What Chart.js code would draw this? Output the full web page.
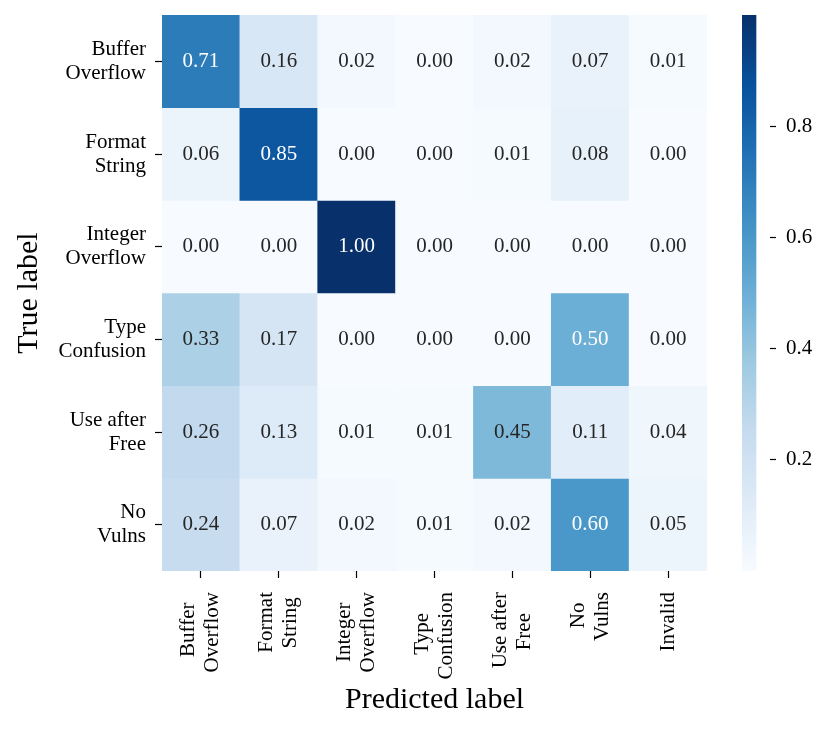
<!DOCTYPE html>
<html><head><meta charset="utf-8">
<script src="https://cdn.jsdelivr.net/npm/chart.js@4.4.1/dist/chart.umd.min.js"></script>
<style>
html,body{margin:0;padding:0;background:#fff;}
#wrap{position:relative;width:830px;height:733px;}
#wrap canvas{position:absolute;left:0;top:0;}
#cbar{pointer-events:none;}
</style>
</head><body>
<div id="wrap"><canvas id="main" width="830" height="733"></canvas><canvas id="cbar" width="830" height="733"></canvas></div>
<script>
// ---- data ----
const predictedLabels = [['Buffer','Overflow'], ['Format','String'], ['Integer','Overflow'], ['Type','Confusion'], ['Use after','Free'], ['No','Vulns'], ['Invalid']];
const trueLabels = [['Buffer','Overflow'], ['Format','String'], ['Integer','Overflow'], ['Type','Confusion'], ['Use after','Free'], ['No','Vulns']];
const rowBufferOverflow  = [0.71, 0.16, 0.02, 0.00, 0.02, 0.07, 0.01];
const rowFormatString    = [0.06, 0.85, 0.00, 0.00, 0.01, 0.08, 0.00];
const rowIntegerOverflow = [0.00, 0.00, 1.00, 0.00, 0.00, 0.00, 0.00];
const rowTypeConfusion   = [0.33, 0.17, 0.00, 0.00, 0.00, 0.50, 0.00];
const rowUseAfterFree    = [0.26, 0.13, 0.01, 0.01, 0.45, 0.11, 0.04];
const rowNoVulns         = [0.24, 0.07, 0.02, 0.01, 0.02, 0.60, 0.05];
const matrix = [rowBufferOverflow, rowFormatString, rowIntegerOverflow, rowTypeConfusion, rowUseAfterFree, rowNoVulns];
const colorbarTicks = [0.2, 0.4, 0.6, 0.8];
const colorMin = 0.0, colorMax = 1.0;
const xTitle = 'Predicted label';
const yTitle = 'True label';

// ---- styling helpers ----
const FONT = '"Liberation Serif", "Times New Roman", serif';
const LH = 24;
const BLUES = ['#f7fbff','#deebf7','#c6dbef','#9ecae1','#6baed6','#4292c6','#2171b5','#08519c','#08306b'];
function hex2rgb(h){return [parseInt(h.substr(1,2),16),parseInt(h.substr(3,2),16),parseInt(h.substr(5,2),16)];}
function bluesRGB(t){
  t = Math.max(0, Math.min(1, t));
  const p = t * (BLUES.length - 1);
  const i = Math.min(Math.floor(p), BLUES.length - 2);
  const f = p - i;
  const a = hex2rgb(BLUES[i]), b = hex2rgb(BLUES[i+1]);
  return a.map((v,k)=>Math.round(v + (b[k]-v)*f));
}
function norm(v){return (v - colorMin) / (colorMax - colorMin);}
function cellColor(v){const c = bluesRGB(norm(v)); return `rgb(${c[0]},${c[1]},${c[2]})`;}
function textColor(v){
  const c = bluesRGB(norm(v)).map(x=>{x/=255; return x<=0.04045? x/12.92 : Math.pow((x+0.055)/1.055,2.4);});
  const lum = 0.2126*c[0] + 0.7152*c[1] + 0.0722*c[2];
  return lum > 0.408 ? '#262626' : '#ffffff';
}
const measureCtx = document.createElement('canvas').getContext('2d');
measureCtx.font = '21px ' + FONT;
function centeredLines(lines){
  if (lines.length === 1) return ['', lines[0]];
  const ws = lines.map(l => measureCtx.measureText(l).width);
  const maxW = Math.max(...ws);
  const sp = measureCtx.measureText(' ').width;
  return lines.map((l,i) => l + ' '.repeat(Math.max(0, Math.round((maxW - ws[i]) / 2 / sp))));
}
function noPad(s){ s.paddingTop = 0; s.paddingBottom = 0; s.paddingLeft = 0; s.paddingRight = 0; }

const annotate = {
  id: 'annotate',
  afterDatasetsDraw(chart){
    const c = chart.ctx;
    c.save();
    c.font = '21px ' + FONT;
    c.textAlign = 'center';
    c.textBaseline = 'middle';
    chart.data.datasets.forEach((ds, r) => {
      chart.getDatasetMeta(r).data.forEach((el, j) => {
        const v = matrix[r][j];
        c.fillStyle = textColor(v);
        c.fillText(v.toFixed(2), el.x, (el.y + el.base) / 2);
      });
    });
    c.restore();
  }
};

new Chart(document.getElementById('main'), {
  type: 'bar',
  data: {
    labels: predictedLabels,
    datasets: matrix.map((row, r) => ({
      label: trueLabels[r].join(' '),
      data: row.map(() => [r, r + 1]),
      backgroundColor: row.map(cellColor),
      borderWidth: 0,
      barPercentage: 1,
      categoryPercentage: 1,
      grouped: false
    }))
  },
  options: {
    responsive: false,
    animation: false,
    layout: { padding: { left: 0, top: 15, right: 123, bottom: 0 } },
    plugins: { legend: { display: false }, tooltip: { enabled: false } },
    scales: {
      x: {
        type: 'category',
        offset: true,
        grid: { display: true, drawOnChartArea: false, offset: false, tickLength: 7, tickWidth: 1.2, tickColor: '#000' },
        border: { display: false },
        ticks: {
          autoSkip: false, minRotation: 90, maxRotation: 90, padding: 14,
          labelOffset: -LH / 2, color: '#000',
          font: ctx => ({ family: FONT, size: 21, lineHeight: ((predictedLabels[ctx.index] || []).length === 1 ? LH / 2 : LH) + 'px' }),
          callback: (v, i) => centeredLines(predictedLabels[i])
        },
        title: { display: true, text: xTitle, color: '#000', font: { family: FONT, size: 30 }, padding: { top: 0, bottom: 15 } },
        afterFit: s => { s.height = 162; noPad(s); }
      },
      y: {
        type: 'linear', min: 0, max: trueLabels.length, reverse: true,
        afterBuildTicks: s => { s.ticks = trueLabels.map((_, i) => ({ value: i + 0.5 })); },
        grid: { drawOnChartArea: false, tickLength: 7, tickWidth: 1.2, tickColor: '#000' },
        border: { display: false },
        ticks: { autoSkip: false, padding: 9, color: '#000', font: { family: FONT, size: 21, lineHeight: LH + 'px' }, callback: v => trueLabels[Math.floor(v)] },
        title: { display: true, text: yTitle, color: '#000', font: { family: FONT, size: 30 }, padding: { top: 11, bottom: 0 } },
        afterFit: s => { s.width = 162; noPad(s); }
      }
    }
  },
  plugins: [annotate]
});

new Chart(document.getElementById('cbar'), {
  type: 'bar',
  data: {
    labels: ['scale'],
    datasets: [{
      data: [[colorMin, colorMax]],
      backgroundColor: ctx => {
        const ch = ctx.chart, ys = ch.scales.y;
        if (!ys || !ch.chartArea) return BLUES[4];
        const g = ch.ctx.createLinearGradient(0, ys.getPixelForValue(colorMin), 0, ys.getPixelForValue(colorMax));
        BLUES.forEach((c, i) => g.addColorStop(i / (BLUES.length - 1), c));
        return g;
      },
      borderWidth: 0, barPercentage: 1, categoryPercentage: 1
    }]
  },
  options: {
    responsive: false,
    animation: false,
    layout: { padding: { left: 742, top: 15, right: 0, bottom: 162 } },
    plugins: { legend: { display: false }, tooltip: { enabled: false } },
    scales: {
      x: { display: false, offset: false },
      y: {
        position: 'right', min: colorMin, max: colorMax,
        afterBuildTicks: s => { s.ticks = colorbarTicks.map(v => ({ value: v })); },
        grid: { drawOnChartArea: false, tickLength: 6, tickWidth: 1.2, tickColor: '#000' },
        border: { display: false },
        ticks: { padding: 10, color: '#000', font: { family: FONT, size: 21 }, callback: v => v.toFixed(1) },
        afterFit: s => { s.width = 60; noPad(s); }
      }
    }
  }
});
</script>
</body></html>
